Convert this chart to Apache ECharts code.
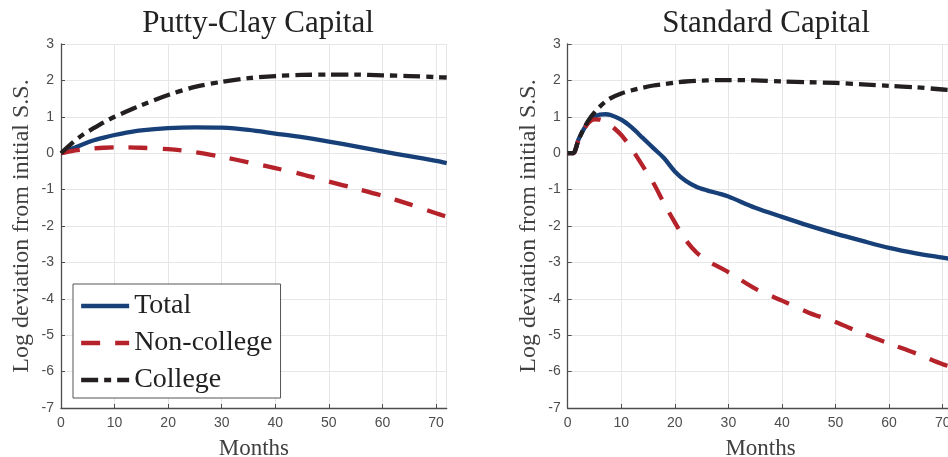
<!DOCTYPE html>
<html>
<head>
<meta charset="utf-8">
<script src="https://cdn.jsdelivr.net/npm/echarts@6/dist/echarts.min.js"></script>
<style>
html,body{margin:0;padding:0;background:#fff;}
#chart{width:948px;height:457px;}
</style>
</head>
<body>
<div id="chart"></div>
<script>
// ---- data ----
const panelTitles = ['Putty-Clay Capital', 'Standard Capital'];
const seriesNames = ['Total', 'Non-college', 'College'];
const xTickLabels = [0, 10, 20, 30, 40, 50, 60, 70];
const yTickLabels = [-7, -6, -5, -4, -3, -2, -1, 0, 1, 2, 3];

const leftMonths = [0, 2, 4, 6, 8, 10, 12, 15, 20, 25, 30, 35, 40, 45, 50, 55, 60, 65, 70, 72];
const leftTotal = [0, 0.12, 0.24, 0.35, 0.43, 0.5, 0.56, 0.63, 0.69, 0.71, 0.70, 0.64, 0.54, 0.44, 0.32, 0.19, 0.05, -0.08, -0.21, -0.27];
const leftNonCollege = [0, 0.06, 0.1, 0.13, 0.15, 0.16, 0.16, 0.15, 0.11, 0.03, -0.1, -0.25, -0.41, -0.58, -0.78, -0.97, -1.17, -1.4, -1.65, -1.74];
const leftCollege = [0, 0.27, 0.5, 0.68, 0.85, 1.0, 1.13, 1.32, 1.6, 1.82, 1.96, 2.06, 2.12, 2.15, 2.16, 2.16, 2.14, 2.12, 2.09, 2.08];

const rightMonths = [0, 1, 2, 3, 4, 5, 6, 7, 8, 10, 12, 14, 16, 18, 20, 22, 24, 26, 28, 30, 35, 40, 45, 50, 55, 60, 65, 70, 72];
const rightTotal = [0, 0, 0.37, 0.66, 0.88, 1.0, 1.06, 1.07, 1.05, 0.92, 0.7, 0.42, 0.14, -0.14, -0.5, -0.76, -0.92, -1.02, -1.1, -1.19, -1.5, -1.75, -1.99, -2.21, -2.41, -2.6, -2.75, -2.87, -2.92];
const rightNonCollege = [0, 0, 0.35, 0.65, 0.85, 0.93, 0.92, 0.86, 0.77, 0.5, 0.11, -0.35, -0.82, -1.38, -1.9, -2.38, -2.72, -2.95, -3.11, -3.27, -3.72, -4.05, -4.38, -4.64, -4.95, -5.23, -5.5, -5.8, -5.88];
const rightCollege = [0, 0, 0.35, 0.68, 0.93, 1.12, 1.28, 1.41, 1.51, 1.64, 1.73, 1.8, 1.86, 1.9, 1.94, 1.97, 1.99, 2.0, 2.01, 2.01, 2.0, 1.97, 1.95, 1.93, 1.89, 1.85, 1.81, 1.75, 1.73];

// ---- styles ----
const colors = ['#173f78', '#b5222a', '#231f20'];
const dashes = ['solid', [19, 15], [17, 6, 7, 6]];
const serif = '"Liberation Serif", "Times New Roman", serif';
const sans = '"Liberation Sans", Arial, Helvetica, sans-serif';

function pairs(xs, ys) { return xs.map((x, i) => [x, ys[i]]); }

function makeX(idx) {
  return {
    type: 'value', gridIndex: idx, min: 0, max: 72, interval: 10,
    name: 'Months', nameLocation: 'middle', nameGap: 29,
    nameTextStyle: { fontFamily: serif, fontSize: 23, color: '#404040' },
    axisLine: { show: true, onZero: false, lineStyle: { color: '#4d4d4d', width: 1.3 } },
    axisTick: { show: true, inside: true, length: 4, lineStyle: { color: '#4d4d4d' } },
    axisLabel: {
      color: '#4d4d4d', fontFamily: sans, fontSize: 14, margin: 8,
      showMaxLabel: false,
      formatter: v => (xTickLabels.indexOf(v) >= 0 ? String(v) : '')
    },
    splitLine: { show: true, lineStyle: { color: '#e6e6e6', width: 1 } }
  };
}
function makeY(idx) {
  return {
    type: 'value', gridIndex: idx, min: -7, max: 3, interval: 1,
    name: 'Log deviation from initial S.S.', nameLocation: 'middle', nameGap: 27,
    nameTextStyle: { fontFamily: serif, fontSize: 24, color: '#404040' },
    axisLine: { show: true, onZero: false, lineStyle: { color: '#4d4d4d', width: 1.3 } },
    axisTick: { show: true, inside: true, length: 4, lineStyle: { color: '#4d4d4d' } },
    axisLabel: {
      color: '#4d4d4d', fontFamily: sans, fontSize: 14, margin: 7,
      formatter: v => (yTickLabels.indexOf(v) >= 0 ? String(v) : '')
    },
    splitLine: { show: true, lineStyle: { color: '#e6e6e6', width: 1 } }
  };
}

const panels = [
  [leftMonths, [leftTotal, leftNonCollege, leftCollege]],
  [rightMonths, [rightTotal, rightNonCollege, rightCollege]]
];
const series = [];
panels.forEach((p, gi) => {
  p[1].forEach((vals, si) => {
    series.push({
      name: seriesNames[si], type: 'line', xAxisIndex: gi, yAxisIndex: gi,
      data: pairs(p[0], vals), showSymbol: false, symbol: 'none',
      smooth: 0.3,
      lineStyle: { color: colors[si], width: 4.3, type: dashes[si], cap: 'butt', join: 'round' },
      itemStyle: { color: colors[si] },
      z: 2 + si, animation: false
    });
  });
});

const chart = echarts.init(document.getElementById('chart'), null, { renderer: 'canvas' });
chart.setOption({
  animation: false,
  backgroundColor: '#ffffff',
  title: [
    { text: panelTitles[0], left: 253, top: 3, textAlign: 'center',
      textStyle: { fontFamily: serif, fontSize: 31, fontWeight: 'normal', color: '#222' } },
    { text: panelTitles[1], left: 761, top: 3, textAlign: 'center',
      textStyle: { fontFamily: serif, fontSize: 31, fontWeight: 'normal', color: '#222' } }
  ],
  grid: [
    { left: 61, top: 44, width: 385.7, height: 364, outerBoundsMode: 'none', containLabel: false },
    { left: 567.7, top: 44, width: 385.7, height: 364, outerBoundsMode: 'none', containLabel: false }
  ],
  xAxis: [makeX(0), makeX(1)],
  yAxis: [makeY(0), makeY(1)],
  legend: {
    data: seriesNames, orient: 'vertical', left: 73, top: 284,
    itemWidth: 48, itemHeight: 14, itemGap: 9,
    padding: [8, 8, 4, 6],
    backgroundColor: '#ffffff', borderColor: '#555', borderWidth: 1,
    itemStyle: { opacity: 0, borderWidth: 0 },
    lineStyle: { width: 4.3 },
    textStyle: { fontFamily: serif, fontSize: 28, color: '#222', lineHeight: 27 },
    selectedMode: false
  },
  series: series
});
</script>
</body>
</html>
